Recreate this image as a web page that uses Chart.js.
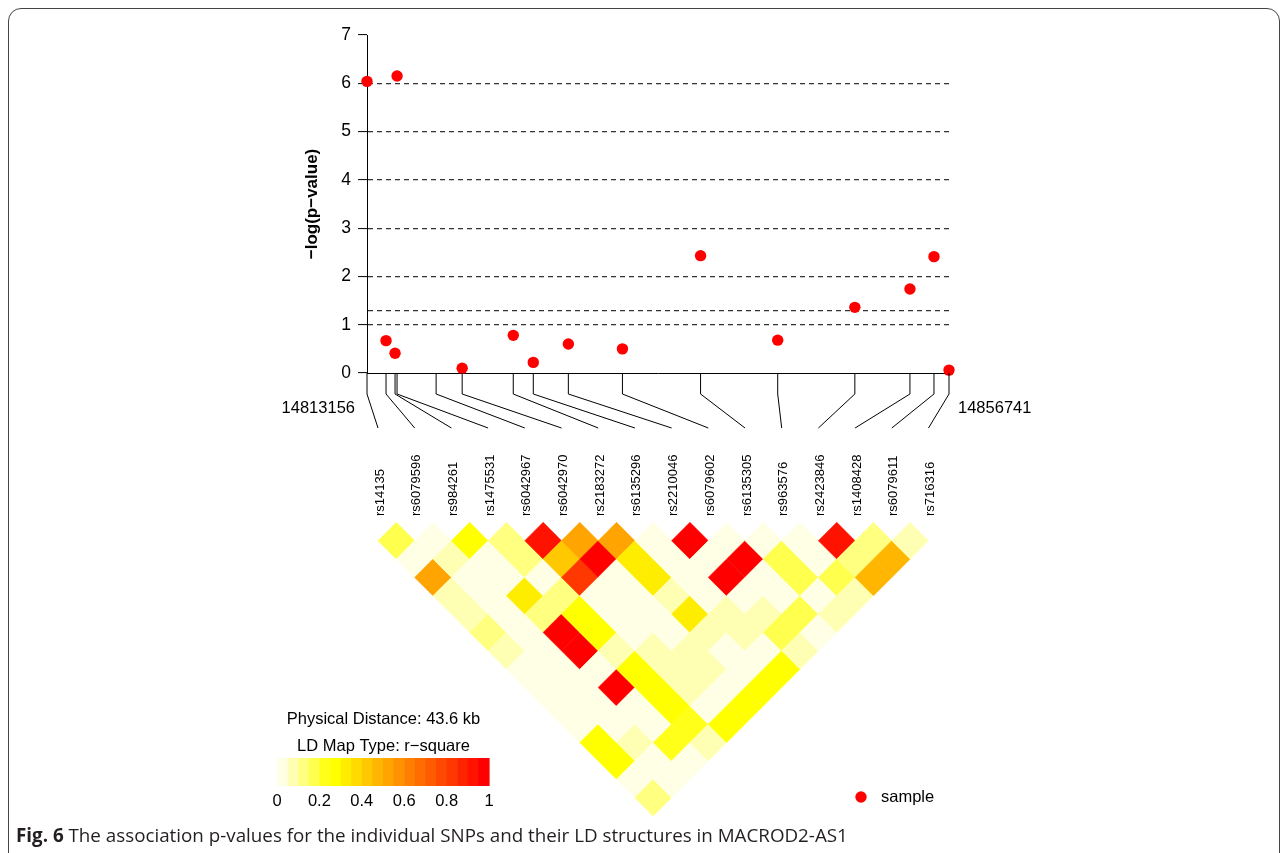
<!DOCTYPE html>
<html><head><meta charset="utf-8">
<script src="https://cdn.jsdelivr.net/npm/chart.js@4/dist/chart.umd.min.js"></script>
<style>
html,body{margin:0;padding:0;background:#fff;}
#wrap{position:relative;width:1281px;height:853px;overflow:hidden;background:#fff;}
#frame{position:absolute;left:8px;top:8px;width:1272px;height:860px;border:1.5px solid #444;border-radius:13px;box-sizing:border-box;}
canvas{position:absolute;left:0;top:0;}
#cap{position:absolute;left:16px;top:825px;font-family:"Open Sans",sans-serif;font-size:16px;line-height:20px;color:#231f20;white-space:nowrap;}
#cap b{font-weight:700;}
</style></head>
<body><div id="wrap"><div id="frame"></div>
<canvas id="c1" width="1281" height="853"></canvas>
<canvas id="c2" width="1281" height="853"></canvas>
<div id="cap"><b>Fig. 6</b> The association p-values for the individual SNPs and their LD structures in MACROD2-AS1</div>
</div>
<script>
// ---------- data ----------
const snpNames = ["rs14135","rs6079596","rs984261","rs1475531","rs6042967","rs6042970","rs2183272","rs6135296","rs2210046","rs6079602","rs6135305","rs963576","rs2423846","rs1408428","rs6079611","rs716316"];
const snpPositions = [14813156,14814581,14815257,14815407,14818332,14820283,14824109,14825609,14828235,14832286,14838137,14843913,14849690,14853816,14855616,14856741];
const negLogP = [6.04,0.67,0.41,6.15,null,0.10,0.78,0.22,0.60,0.50,2.43,0.68,1.36,1.74,2.41,0.06];
const yTicks = [0,1,2,3,4,5,6,7];
const sigLine = 1.30103;
// LD r-square, row i lists pairs (i, j) for j = i+1 .. 15
const ldRows = [
  [0.18,0.02,0.52,0.07,0.07,0.11,0.08,0.03,0.03,0.03,0.03,0.28,0.28,0.03,0.11],
  [0.02,0.07,0.03,0.03,0.03,0.03,0.03,0.03,0.03,0.03,0.03,0.07,0.03,0.03],
  [0.27,0.03,0.03,0.34,0.11,0.97,0.97,0.03,0.97,0.03,0.03,0.22,0.03],
  [0.12,0.12,0.03,0.12,0.28,0.28,0.08,0.28,0.28,0.27,0.20,0.07],
  [0.92,0.42,0.83,0.03,0.03,0.03,0.07,0.07,0.07,0.03,0.27],
  [0.52,0.97,0.02,0.03,0.03,0.03,0.07,0.07,0.03,0.27],
  [0.52,0.34,0.34,0.08,0.34,0.07,0.03,0.03,0.27],
  [0.02,0.03,0.03,0.03,0.07,0.07,0.03,0.27],
  [0.97,0.03,0.97,0.03,0.07,0.18,0.08],
  [0.03,0.97,0.03,0.03,0.18,0.03],
  [0.03,0.18,0.18,0.03,0.07],
  [0.02,0.02,0.18,0.06],
  [0.92,0.12,0.47],
  [0.12,0.47],
  [0.07]
];
const colorBarTicks = ["0","0.2","0.4","0.6","0.8","1"];
const heatColors = ["#FFFFE6","#FFFFB3","#FFFF80","#FFFF4D","#FFFF1A","#FFFF00","#FFED00","#FFDB00","#FFC800","#FFB600",
                    "#FFA400","#FF9200","#FF8000","#FF6D00","#FF5B00","#FF4900","#FF3700","#FF2400","#FF1200","#FF0000"];
const distanceText = "Physical Distance: 43.6 kb";
const mapTypeText = "LD Map Type: r\u2212square";
const legendText = "sample";

// ---------- helpers ----------
const FONT = "'Liberation Sans', Arial, sans-serif";
function colorFor(r){ return heatColors[Math.min(19, Math.max(0, Math.floor(r*20)))]; }

// ---------- association plot ----------
const assocData = [];
snpPositions.forEach((p,k)=>{ if(negLogP[k]!==null) assocData.push({x:p, y:negLogP[k]}); });

const chartA = new Chart(document.getElementById('c1'), {
  type:'scatter',
  data:{datasets:[{label:legendText, data:assocData, backgroundColor:'#ff0000', borderWidth:0, pointRadius:5.7, pointHoverRadius:5.7, clip:false}]},
  options:{
    responsive:false, animation:false, devicePixelRatio:1,
    layout:{padding:{left:300, top:35, right:332, bottom:480}},
    plugins:{legend:{display:false}, tooltip:{enabled:false}},
    events:[],
    scales:{
      x:{type:'linear', min:snpPositions[0], max:snpPositions[snpPositions.length-1],
         ticks:{display:false}, grid:{display:false},
         border:{display:true, color:'#000', width:1},
         afterFit:s=>{s.height=0;}},
      y:{type:'linear', min:0, max:7,
         afterBuildTicks:s=>{ const t=yTicks.map(v=>({value:v})); t.push({value:sigLine}); t.sort((a,b)=>a.value-b.value); s.ticks=t; },
         afterFit:s=>{s.width=67;},
         ticks:{callback:(v)=> yTicks.includes(v)? String(v) : '', color:'#000', padding:7,
                font:{family:FONT, size:17.5}},
         grid:{color:c=> (c.tick && (c.tick.value===0 || c.tick.value===7)) ? 'rgba(0,0,0,0)' : '#333',
               lineWidth:1.2, drawTicks:true, tickLength:9, tickWidth:1,
               tickColor:c=> (c.tick && c.tick.value===sigLine) ? 'rgba(0,0,0,0)' : '#000'},
         border:{display:true, color:'#000', width:1, dash:[5,4]},
         title:{display:true, text:'\u2212log(p\u2212value)', color:'#000', padding:{top:2,bottom:0},
                font:{family:FONT, size:17, weight:'bold'}}}
    }
  }
});

// ---------- LD heatmap ----------
const cells = [];
ldRows.forEach((row,i)=>row.forEach((r,k)=>{ const j=i+k+1; cells.push({x:(i+j)/2, y:j-i, r:r}); }));

const overlay = {
  id:'overlay',
  afterDatasetsDraw(chart){
    const ctx=chart.ctx, xs=chart.scales.x, xa=chartA.scales.x, base=chartA.chartArea.bottom;
    ctx.save();
    // connectors from physical position to SNP slot
    ctx.strokeStyle='#000'; ctx.lineWidth=1;
    snpPositions.forEach((p,k)=>{
      const px=xa.getPixelForValue(p), ix=xs.getPixelForValue(k);
      ctx.beginPath(); ctx.moveTo(px, base); ctx.lineTo(px, base+21); ctx.lineTo(ix, base+55); ctx.stroke();
    });
    // position end labels
    ctx.fillStyle='#000'; ctx.font='16.5px '+FONT; ctx.textBaseline='middle';
    ctx.textAlign='right'; ctx.fillText(String(snpPositions[0]), xa.getPixelForValue(snpPositions[0])-12, base+35);
    ctx.textAlign='left'; ctx.fillText(String(snpPositions[snpPositions.length-1]), xa.getPixelForValue(snpPositions[snpPositions.length-1])+9, base+35);
    // SNP names
    ctx.font='13px '+FONT;
    snpNames.forEach((n,k)=>{
      ctx.save(); ctx.translate(xs.getPixelForValue(k)+2, base+143); ctx.rotate(-Math.PI/2);
      ctx.textAlign='left'; ctx.textBaseline='middle'; ctx.fillText(n,0,0); ctx.restore();
    });
    // colour key
    const bx=277, bw=212, by=758, bh=28;
    heatColors.forEach((c,m)=>{ ctx.fillStyle=c; ctx.fillRect(bx+m*bw/20, by, bw/20+0.6, bh); });
    ctx.fillStyle='#000'; ctx.font='16.5px '+FONT; ctx.textAlign='center'; ctx.textBaseline='middle';
    colorBarTicks.forEach((t,m)=>ctx.fillText(t, bx+m*bw/5, 801));
    ctx.fillText(distanceText, 383.5, 719);
    ctx.fillText(mapTypeText, 383.5, 746);
    // dataset legend
    ctx.fillStyle='#ff0000'; ctx.beginPath(); ctx.arc(861, 797, 5.7, 0, Math.PI*2); ctx.fill();
    ctx.fillStyle='#000'; ctx.textAlign='left'; ctx.font='16.5px '+FONT; ctx.fillText(legendText, 881, 797);
    ctx.restore();
  }
};

const chartB = new Chart(document.getElementById('c2'), {
  type:'scatter',
  data:{datasets:[{data:cells, pointStyle:'rectRot',
    pointRadius:c=>{ const xs=c.chart.scales.x; return xs.getPixelForValue(0.5)-xs.getPixelForValue(0); },
    pointHoverRadius:c=>{ const xs=c.chart.scales.x; return xs.getPixelForValue(0.5)-xs.getPixelForValue(0); },
    backgroundColor:c=> c.raw ? colorFor(c.raw.r) : '#fff',
    borderColor:c=> c.raw ? colorFor(c.raw.r) : '#fff',
    borderWidth:0.6, clip:false}]},
  options:{
    responsive:false, animation:false, devicePixelRatio:1, events:[],
    layout:{padding:{left:378, right:352.5, top:522.35, bottom:37}},
    plugins:{legend:{display:false}, tooltip:{enabled:false}},
    scales:{
      x:{type:'linear', display:false, min:0, max:15},
      y:{type:'linear', display:false, reverse:true, min:0, max:16}
    }
  },
  plugins:[overlay]
});

// fit caption width to the figure's caption line
const cap=document.getElementById('cap');
const w=cap.getBoundingClientRect().width;
cap.style.fontSize=(16*832/w).toFixed(2)+'px';
</script>
</body></html>
